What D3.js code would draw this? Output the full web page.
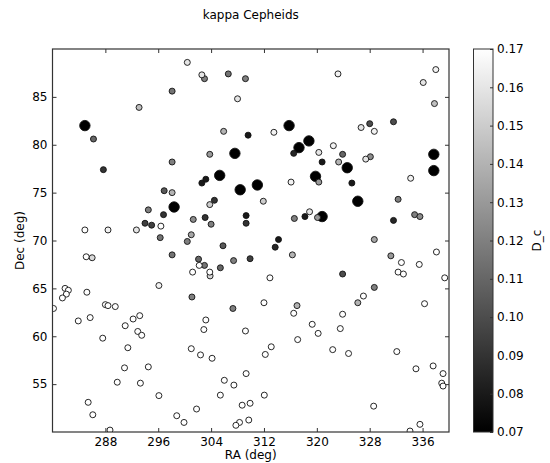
<!DOCTYPE html>
<meta charset="utf-8">
<script src="https://d3js.org/d3.v7.min.js"></script>
<style>
  body { margin: 0; background: #fff; }
  text { font-family: "DejaVu Sans", sans-serif; fill: #000; }
</style>
<div id="my_dataviz"></div>
<script>

// star positions (RA, Dec in deg) and their D_c value
var ra = [
  284.9, 298.4, 315.8, 318.8, 317.3, 307.6, 305.3, 308.4, 311.0, 319.8, 320.8, 324.6, 337.7, 337.7, 326.2,
  287.7, 296.8, 294.0, 295.0, 309.6, 316.5, 302.6, 303.2, 304.5, 309.3, 309.3, 303.1, 318.2, 314.2, 313.7,
  320.8, 325.3, 331.6, 328.0, 331.6, 309.9, 323.9,
  298.1, 293.1, 286.2, 298.1, 296.9, 298.1, 294.5, 296.3, 303.0, 306.6, 309.2, 305.9, 303.8, 320.3, 311.9,
  303.8, 301.3, 304.0, 316.6, 320.1, 301.0, 300.4, 337.8, 323.9, 323.3, 328.1, 332.3, 334.8, 335.6, 328.7,
  286.0, 298.1, 305.8, 316.3, 302.1, 303.0, 307.4, 305.4, 303.85, 301.1, 307.3, 317.0, 331.2, 328.7, 326.2,
  284.9, 288.4, 292.7, 296.4, 300.4, 302.6, 308.0, 313.5, 320.3, 316.1, 318.9, 323.2, 338.0, 336.1, 326.7,
  328.7, 322.5, 327.4, 334.2, 285.1, 296.1, 281.9, 282.4, 282.1, 281.5, 285.2, 280.15, 288.0, 288.4, 289.5,
  283.9, 285.7, 292.2, 293.2, 291.0, 292.9, 293.5, 287.6, 291.4, 290.9, 294.5, 289.8, 293.3, 296.1, 285.4,
  286.1, 298.8, 299.9, 288.7, 302.2, 301.2, 303.8, 312.9, 312.0, 316.5, 319.3, 320.2, 303.2, 302.9, 309.2,
  317.1, 301.0, 302.4, 304.15, 313.1, 312.2, 309.3, 306.0, 307.45, 305.4, 312.05, 301.8, 308.7, 309.9, 309.7,
  308.3, 307.75, 338.1, 332.8, 335.5, 332.3, 333.1, 339.35, 327.05, 336.3, 323.9, 323.55, 322.4, 324.8, 332.1,
  335.0, 337.6, 339.1, 338.9, 339.1, 328.6, 335.6, 334.1
];
var dec = [
  82.0, 73.5, 82.0, 80.4, 79.7, 79.1, 76.8, 75.3, 75.8, 76.7, 72.5, 77.6, 79.0, 77.3, 74.1,
  77.4, 72.7, 71.8, 71.6, 81.0, 79.1, 76.0, 76.4, 74.2, 72.6, 71.8, 72.4, 72.5, 70.1, 69.3,
  78.2, 76.0, 72.1, 82.2, 82.4, 68.1, 66.5,
  85.6, 83.9, 80.6, 78.2, 75.2, 75.0, 73.2, 70.3, 86.9, 87.4, 86.9, 81.4, 79.0, 76.1, 74.1,
  73.75, 72.2, 71.7, 72.3, 72.4, 70.6, 69.9, 84.3, 79.0, 78.2, 78.75, 74.3, 72.7, 72.5, 70.1,
  68.2, 68.5, 69.45, 68.5, 68.05, 67.4, 67.9, 67.15, 66.3, 64.1, 62.9, 63.2, 68.4, 65.1, 63.5,
  71.1, 71.1, 71.1, 71.5, 88.6, 87.3, 84.8, 81.3, 79.2, 76.1, 73.0, 87.4, 87.85, 86.5, 81.8,
  81.4, 79.9, 78.5, 76.5, 68.3, 65.3, 65.0, 64.8, 64.4, 64.0, 64.6, 62.9, 63.3, 63.2, 63.1,
  61.6, 61.95, 61.8, 62.15, 61.1, 60.5, 60.1, 59.8, 58.8, 56.7, 56.8, 55.2, 55.1, 53.8, 53.1,
  51.8, 51.7, 51.0, 50.2, 67.4, 66.7, 66.7, 66.1, 63.5, 62.4, 61.25, 60.3, 61.7, 60.7, 60.55,
  59.65, 58.7, 58.05, 57.7, 58.9, 58.1, 56.1, 55.4, 54.9, 53.85, 53.85, 52.4, 52.8, 53.0, 51.25,
  51.0, 50.7, 68.8, 67.7, 67.5, 66.7, 66.5, 66.1, 64.2, 63.4, 62.3, 60.8, 58.6, 58.2, 58.4,
  56.6, 56.9, 56.1, 55.1, 54.8, 52.7, 50.8, 50.1
];
var dc = [
  0.07, 0.07, 0.07, 0.07, 0.07, 0.07, 0.07, 0.07, 0.07, 0.07, 0.07, 0.07, 0.07, 0.07, 0.07,
  0.09, 0.09, 0.095, 0.095, 0.08, 0.085, 0.08, 0.08, 0.09, 0.08, 0.09, 0.09, 0.08, 0.08, 0.085,
  0.08, 0.08, 0.085, 0.1, 0.1, 0.095, 0.1,
  0.115, 0.145, 0.11, 0.12, 0.105, 0.14, 0.12, 0.115, 0.12, 0.115, 0.12, 0.14, 0.13, 0.13, 0.15,
  0.15, 0.125, 0.12, 0.12, 0.13, 0.135, 0.12, 0.145, 0.11, 0.14, 0.125, 0.12, 0.12, 0.125, 0.135,
  0.155, 0.115, 0.105, 0.14, 0.11, 0.115, 0.12, 0.11, 0.155, 0.12, 0.12, 0.14, 0.13, 0.12, 0.14,
  0.17, 0.165, 0.16, 0.17, 0.16, 0.16, 0.16, 0.165, 0.16, 0.165, 0.16, 0.165, 0.165, 0.16, 0.16,
  0.165, 0.165, 0.16, 0.165, 0.17, 0.165, 0.17, 0.17, 0.17, 0.17, 0.17, 0.17, 0.17, 0.17, 0.17,
  0.17, 0.17, 0.17, 0.17, 0.17, 0.17, 0.17, 0.17, 0.17, 0.17, 0.17, 0.17, 0.17, 0.17, 0.17,
  0.17, 0.17, 0.17, 0.17, 0.17, 0.17, 0.17, 0.17, 0.17, 0.17, 0.17, 0.17, 0.17, 0.17, 0.17,
  0.17, 0.17, 0.17, 0.17, 0.17, 0.17, 0.17, 0.17, 0.17, 0.17, 0.17, 0.17, 0.17, 0.17, 0.17,
  0.17, 0.17, 0.17, 0.17, 0.17, 0.17, 0.17, 0.17, 0.17, 0.17, 0.17, 0.17, 0.17, 0.17, 0.17,
  0.17, 0.17, 0.17, 0.17, 0.17, 0.17, 0.17, 0.17
];

var raTicks = [288, 296, 304, 312, 320, 328, 336];
var decTicks = [55, 60, 65, 70, 75, 80, 85];
var dcTicks = [0.07, 0.08, 0.09, 0.10, 0.11, 0.12, 0.13, 0.14, 0.15, 0.16, 0.17];

var W = 550, H = 463;
var plot = {left: 52.5, right: 449, top: 49, bottom: 432};

var svg = d3.select("#my_dataviz")
  .append("svg")
    .attr("width", W)
    .attr("height", H);

var x = d3.scaleLinear().domain([280, 340]).range([plot.left, plot.right]);
var y = d3.scaleLinear().domain([50, 90]).range([plot.bottom, plot.top]);

// gray colormap, black -> white
var color = d3.scaleLinear().domain([0.07, 0.17]).range(["#000", "#fff"]).clamp(true);
// the darkest stars are drawn bigger
var size = d3.scaleThreshold().domain([0.075]).range([5.2, 3.0]);

var data = ra.map(function(d, i) { return {ra: d, dec: dec[i], dc: dc[i]}; });

svg.append("clipPath").attr("id", "clip")
  .append("rect")
    .attr("x", plot.left).attr("y", plot.top)
    .attr("width", plot.right - plot.left).attr("height", plot.bottom - plot.top);

svg.append("g")
    .attr("clip-path", "url(#clip)")
  .selectAll("circle")
  .data(data)
  .join("circle")
    .attr("cx", function(d) { return x(d.ra); })
    .attr("cy", function(d) { return y(d.dec); })
    .attr("r", function(d) { return size(d.dc); })
    .style("fill", function(d) { return color(d.dc); })
    .style("stroke", "#111")
    .style("stroke-width", 0.9);

// axes with inward ticks on all four sides
function styleAxis(g) {
  g.select(".domain").remove();
  g.selectAll(".tick line").attr("stroke", "#333");
  g.selectAll("text").style("font-size", "12px").style("font-family", "DejaVu Sans, sans-serif");
}

svg.append("g")
  .attr("transform", "translate(0," + plot.bottom + ")")
  .call(d3.axisBottom(x).tickValues(raTicks).tickSize(-4).tickPadding(5.5))
  .call(styleAxis);
svg.append("g")
  .attr("transform", "translate(0," + plot.top + ")")
  .call(d3.axisTop(x).tickValues(raTicks).tickSize(-4).tickFormat(""))
  .call(styleAxis);
svg.append("g")
  .attr("transform", "translate(" + plot.left + ",0)")
  .call(d3.axisLeft(y).tickValues(decTicks).tickSize(-4).tickPadding(5))
  .call(styleAxis);
svg.append("g")
  .attr("transform", "translate(" + plot.right + ",0)")
  .call(d3.axisRight(y).tickValues(decTicks).tickSize(-4).tickFormat(""))
  .call(styleAxis);

svg.append("rect")
  .attr("x", plot.left).attr("y", plot.top)
  .attr("width", plot.right - plot.left).attr("height", plot.bottom - plot.top)
  .style("fill", "none")
  .style("stroke", "#333")
  .style("stroke-width", 1.2);

// title and axis labels
svg.append("text")
  .attr("x", (plot.left + plot.right) / 2)
  .attr("y", 19)
  .attr("text-anchor", "middle")
  .style("font-size", "12px")
  .text("kappa Cepheids");

svg.append("text")
  .attr("x", (plot.left + plot.right) / 2)
  .attr("y", 459)
  .attr("text-anchor", "middle")
  .style("font-size", "12px")
  .text("RA (deg)");

svg.append("text")
  .attr("transform", "translate(24," + (plot.top + plot.bottom) / 2 + ") rotate(-90)")
  .attr("text-anchor", "middle")
  .style("font-size", "12px")
  .text("Dec (deg)");

// colour bar
var cb = {x: 473.5, w: 19.5};
var cy = d3.scaleLinear().domain([0.07, 0.17]).range([plot.bottom, plot.top]);

var grad = svg.append("defs").append("linearGradient")
  .attr("id", "cbgrad")
  .attr("x1", 0).attr("y1", 1).attr("x2", 0).attr("y2", 0);
grad.append("stop").attr("offset", "0%").attr("stop-color", color(0.07));
grad.append("stop").attr("offset", "100%").attr("stop-color", color(0.17));

svg.append("rect")
  .attr("x", cb.x).attr("y", plot.top)
  .attr("width", cb.w).attr("height", plot.bottom - plot.top)
  .style("fill", "url(#cbgrad)");

svg.append("g")
  .attr("transform", "translate(" + (cb.x + cb.w) + ",0)")
  .call(d3.axisRight(cy).tickValues(dcTicks).tickSize(-3).tickPadding(4).tickFormat(d3.format(".2f")))
  .call(styleAxis);

svg.append("rect")
  .attr("x", cb.x).attr("y", plot.top)
  .attr("width", cb.w).attr("height", plot.bottom - plot.top)
  .style("fill", "none")
  .style("stroke", "#333")
  .style("stroke-width", 1);

svg.append("text")
  .attr("transform", "translate(541," + (plot.top + plot.bottom) / 2 + ") rotate(-90)")
  .attr("text-anchor", "middle")
  .style("font-size", "12px")
  .text("D_c");

</script>
